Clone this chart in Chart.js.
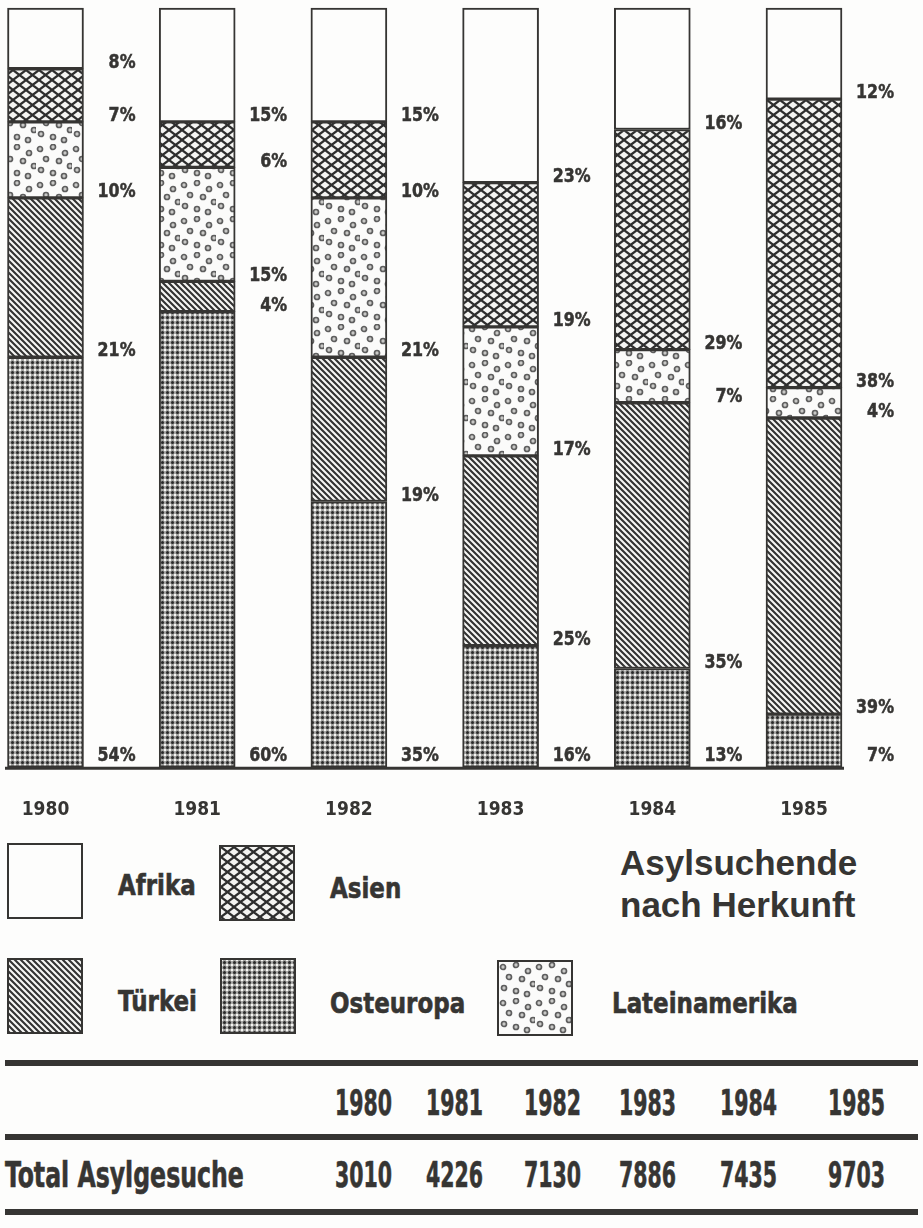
<!DOCTYPE html>
<html>
<head>
<meta charset="utf-8">
<script src="https://cdn.jsdelivr.net/npm/chart.js@4"></script>
<style>
  body { margin: 0; background: #fdfdfc; }
  #page { position: relative; width: 923px; height: 1228px; overflow: hidden; color: #363533; }
  #chartBox { position: absolute; left: 0; top: 0; width: 923px; height: 830px; }
  .cond { font-family: "Liberation Sans Narrow", "DejaVu Sans Condensed", "Arial Narrow", sans-serif; font-weight: bold; -webkit-text-stroke: 0.6px #363533; }
  .lbl { position: absolute; font-size: 29px; line-height: 30px; transform: scaleX(0.88); transform-origin: left center; }
  .sw { position: absolute; width: 72px; height: 72px; border: 2px solid #363533; }
  .title { position: absolute; left: 620px; top: 842px; font-family: "Liberation Sans", Arial, sans-serif; font-weight: bold; font-size: 35px; line-height: 42px; }
  .rule { position: absolute; left: 5px; width: 913px; height: 6px; background: #363533; }
  .cell { position: absolute; font-size: 35px; line-height: 36px; transform: scaleX(0.65); transform-origin: right center; text-align: right; width: 100px; }
</style>
</head>
<body>
<div id="page">
  <div id="chartBox"><canvas id="myChart"></canvas></div>
</div>
<script>
var jahre = ['1980', '1981', '1982', '1983', '1984', '1985'];
// Anteile in %, von unten nach oben gestapelt
var osteuropa = [54, 60, 35, 16, 13, 7];
var tuerkei = [21, 4, 19, 25, 35, 39];
var lateinamerika = [10, 15, 21, 17, 7, 4];
var asien = [7, 6, 10, 19, 29, 38];
var afrika = [8, 15, 15, 23, 16, 12];
var totalGesuche = [3010, 4226, 7130, 7886, 7435, 9703];

var ink = '#363533';

// Muster
function tile(w, h, draw) {
    var c = document.createElement('canvas');
    c.width = w; c.height = h;
    var g = c.getContext('2d');
    draw(g, w, h);
    return c;
}
function muster(c) {
    return document.createElement('canvas').getContext('2d').createPattern(c, 'repeat');
}

var tileAfrika = tile(4, 4, function (g, w, h) {
    g.fillStyle = '#fdfdfc'; g.fillRect(0, 0, w, h);
});
var tileAsien = tile(13, 10, function (g, w, h) {
    g.fillStyle = '#f4f4f2'; g.fillRect(0, 0, w, h);
    g.strokeStyle = '#2e2e2e'; g.lineWidth = 2.2;
    g.beginPath();
    g.moveTo(0, 0); g.lineTo(w, h);
    g.moveTo(w, 0); g.lineTo(0, h);
    g.stroke();
});
var tileTuerkei = tile(6, 6, function (g, w, h) {
    g.fillStyle = '#f6f6f4'; g.fillRect(0, 0, w, h);
    g.strokeStyle = '#333'; g.lineWidth = 2.1;
    g.beginPath();
    g.moveTo(-1, -1); g.lineTo(w + 1, h + 1);
    g.moveTo(-1, h - 1); g.lineTo(1, h + 1);
    g.moveTo(w - 1, -1); g.lineTo(w + 1, 1);
    g.stroke();
});
var tileOst = tile(5, 5, function (g, w, h) {
    g.fillStyle = '#a2a2a0'; g.fillRect(0, 0, w, h);
    g.fillStyle = '#2a2a2a';
    g.beginPath(); g.arc(2.5, 2.5, 1.5, 0, Math.PI * 2); g.fill();
    g.fillStyle = '#f6f6f4';
    [[0, 0], [5, 0], [0, 5], [5, 5]].forEach(function (p) {
        g.beginPath(); g.arc(p[0], p[1], 1.2, 0, Math.PI * 2); g.fill();
    });
});
var tileLatein = tile(36, 36, function (g, w, h) {
    g.fillStyle = '#fbfbfa'; g.fillRect(0, 0, w, h);
    g.strokeStyle = '#5e5e5e'; g.fillStyle = '#c9c9c7'; g.lineWidth = 1.7;
    [[4, 5], [17, 3], [29, 9], [10, 15], [23, 17], [34, 22], [5, 26], [17, 29], [28, 32]].forEach(function (p) {
        g.beginPath(); g.arc(p[0], p[1], 2.5, 0, Math.PI * 2); g.fill(); g.stroke();
    });
});

// Prozentzahlen neben den Balken, jeweils an der Unterkante des Segments
var prozentPlugin = {
    id: 'prozent',
    afterDatasetsDraw: function (chart) {
        var ctx = chart.ctx;
        ctx.save();
        ctx.fillStyle = ink;
        ctx.strokeStyle = ink;
        ctx.lineWidth = 0.5;
        ctx.font = 'bold 20px "Liberation Sans Narrow", "DejaVu Sans Condensed", sans-serif';
        ctx.textAlign = 'right';
        ctx.textBaseline = 'middle';
        chart.data.datasets.forEach(function (ds, di) {
            var meta = chart.getDatasetMeta(di);
            meta.data.forEach(function (bar, i) {
                var x = bar.x + bar.width / 2 + 52;
                var y = Math.min(bar.base - 6, 756);
                ctx.save();
                ctx.translate(x, y);
                ctx.scale(0.88, 1);
                ctx.fillText(ds.data[i] + '%', 0, 0);
                ctx.strokeText(ds.data[i] + '%', 0, 0);
                ctx.restore();
            });
        });
        // Grundlinie
        var yb = chart.scales.y.getPixelForValue(0);
        var last = chart.getDatasetMeta(0).data[jahre.length - 1];
        ctx.lineWidth = 3;
        ctx.beginPath();
        ctx.moveTo(5, yb + 1);
        ctx.lineTo(last.x + last.width / 2 + 2, yb + 1);
        ctx.stroke();
        ctx.restore();
    }
};

function ds(label, data, bg) {
    return {
        label: label,
        data: data,
        backgroundColor: bg,
        borderColor: ink,
        borderWidth: 2,
        borderSkipped: false,
        barThickness: 76,
        clip: false
    };
}

var ctx = document.getElementById('myChart').getContext('2d');
var myChart = new Chart(ctx, {
    type: 'bar',
    data: {
        labels: jahre,
        datasets: [
            ds('Osteuropa', osteuropa, muster(tileOst)),
            ds('Türkei', tuerkei, muster(tileTuerkei)),
            ds('Lateinamerika', lateinamerika, muster(tileLatein)),
            ds('Asien', asien, muster(tileAsien)),
            ds('Afrika', afrika, muster(tileAfrika))
        ]
    },
    options: {
        responsive: true,
        maintainAspectRatio: false,
        animation: false,
        layout: { padding: { left: 45.5, right: 119, top: 8, bottom: 9 } },
        plugins: { legend: { display: false }, tooltip: { enabled: false } },
        scales: {
            x: {
                stacked: true,
                offset: false,
                grid: {
                    display: true,
                    color: 'rgba(0,0,0,0)',
                    drawOnChartArea: false,
                    drawTicks: true,
                    tickLength: 31
                },
                border: { display: false },
                ticks: {
                    color: ink,
                    padding: 0,
                    font: { family: '"Liberation Sans Narrow", "DejaVu Sans Condensed", sans-serif', weight: 'bold', size: 19 }
                }
            },
            y: {
                stacked: true,
                min: 0,
                max: 100,
                display: false
            }
        }
    },
    plugins: [prozentPlugin]
});

// Legende, Titel und Tabelle
var page = document.getElementById('page');
function add(html) { page.insertAdjacentHTML('beforeend', html); }

var legende = [
    { name: 'Afrika', tile: tileAfrika, sx: 7, sy: 843, lx: 118, ly: 870 },
    { name: 'Asien', tile: tileAsien, sx: 219, sy: 845, lx: 330, ly: 873 },
    { name: 'Türkei', tile: tileTuerkei, sx: 7, sy: 958, lx: 118, ly: 986 },
    { name: 'Osteuropa', tile: tileOst, sx: 220, sy: 958, lx: 330, ly: 988 },
    { name: 'Lateinamerika', tile: tileLatein, sx: 497, sy: 960, lx: 612, ly: 988 }
];
legende.forEach(function (l) {
    var url = l.tile.toDataURL();
    add('<div class="sw" style="left:' + l.sx + 'px;top:' + l.sy + 'px;background-image:url(' + url + ')"></div>');
    add('<div class="lbl cond" style="left:' + l.lx + 'px;top:' + l.ly + 'px">' + l.name + '</div>');
});
add('<div class="title">Asylsuchende<br>nach Herkunft</div>');

add('<div class="rule" style="top:1060px"></div>');
add('<div class="rule" style="top:1134px"></div>');
add('<div class="rule" style="top:1209px"></div>');
add('<div class="lbl cond" style="left:5px;top:1157px;font-size:35px;line-height:36px;transform:scaleX(0.75)">Total Asylgesuche</div>');

var rechts = [392, 483, 581, 676, 777, 885];
jahre.forEach(function (j, i) {
    add('<div class="cell cond" style="left:' + (rechts[i] - 100) + 'px;top:1085px">' + j + '</div>');
    add('<div class="cell cond" style="left:' + (rechts[i] - 100) + 'px;top:1157px">' + totalGesuche[i] + '</div>');
});
</script>
</body>
</html>
